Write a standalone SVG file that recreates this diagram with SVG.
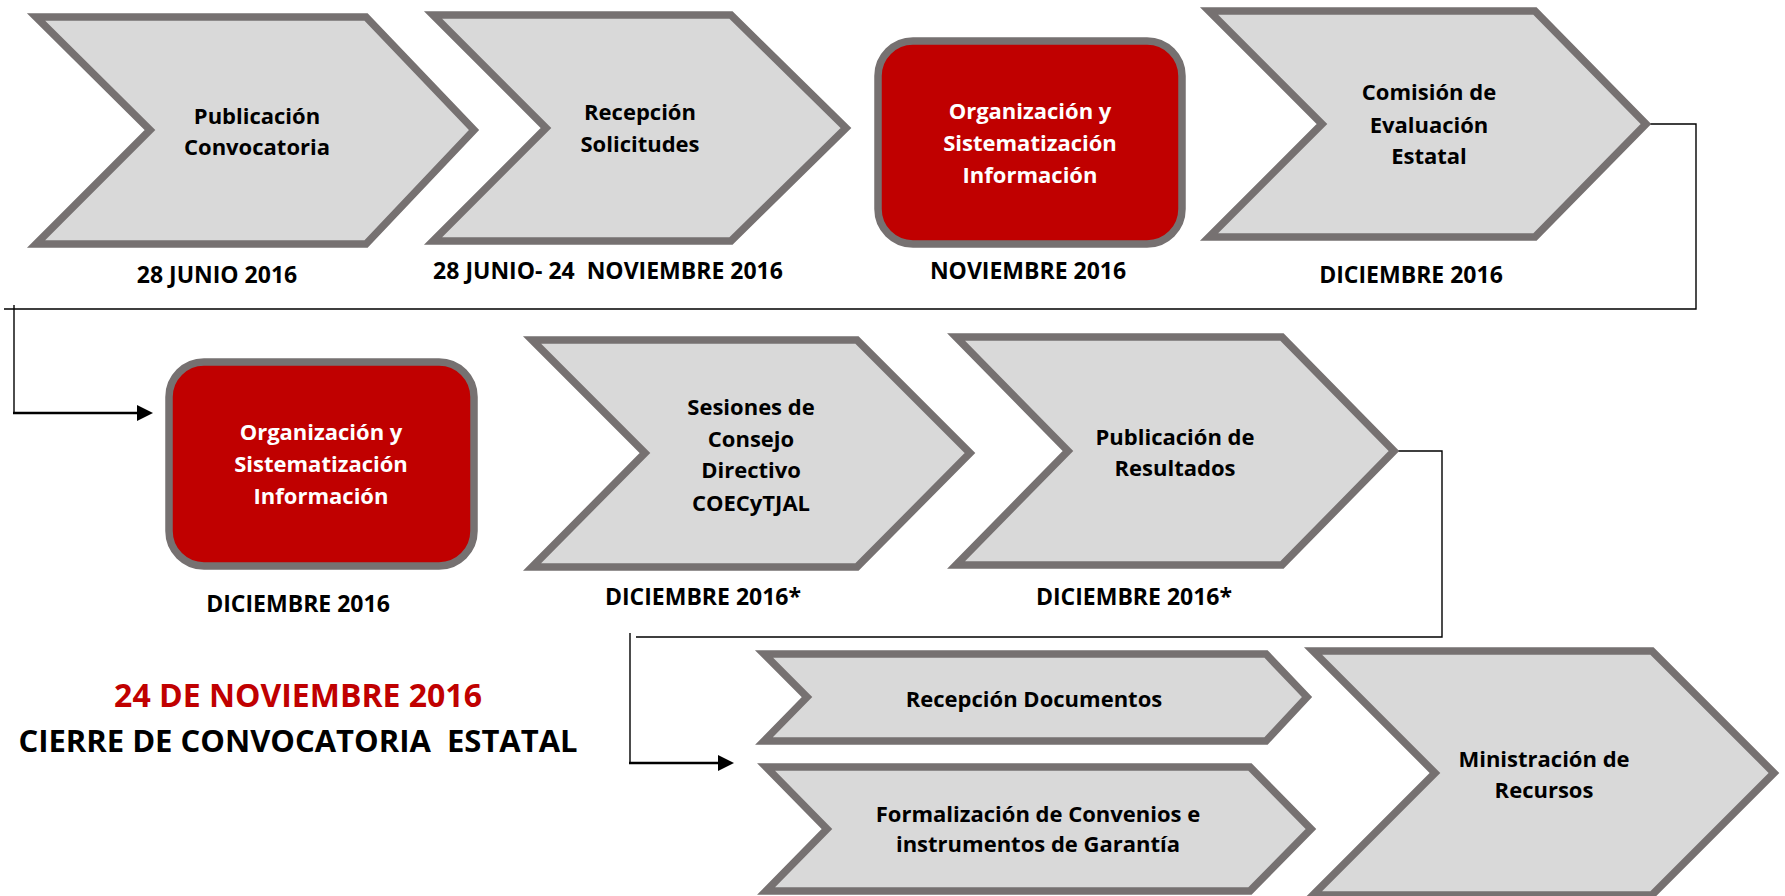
<svg xmlns="http://www.w3.org/2000/svg" width="1785" height="896" viewBox="0 0 1785 896">
<style>
.chev{fill:#d9d9d9;stroke:#767171;stroke-width:7.5;stroke-linejoin:miter}
.red{fill:#c00000;stroke:#767171;stroke-width:7.5}
text{font-family:"Open Sans","Noto Sans","DejaVu Sans",sans-serif;font-weight:700;text-anchor:middle}
.t{font-size:22px;fill:#000}
.w{font-size:22px;fill:#fff}
.d{font-size:23px;fill:#000}
.big{font-size:32px}
.big2{font-size:31px}
.conn{fill:none;stroke:#000;stroke-width:1.4}
.arr{fill:none;stroke:#000;stroke-width:2.5}
</style>
<defs>
<marker id="ah" markerUnits="userSpaceOnUse" markerWidth="16" markerHeight="16" refX="7" refY="8" orient="auto"><path d="M0,0 L16,8 L0,16 z" fill="#000"/></marker>
</defs>
<rect width="1785" height="896" fill="#fff"/>
<g id="connectors">
<path class="conn" d="M1650,124 H1696 V309 H4"/>
<path class="conn" d="M14,305 V413"/>
<path class="arr" d="M13,413 H144" marker-end="url(#ah)"/>
<path class="conn" d="M1394,451 H1442 V637 H636"/>
<path class="conn" d="M630,633 V763"/>
<path class="arr" d="M629,763 H725" marker-end="url(#ah)"/>
</g>
<g id="n1">
<path class="chev" d="M36,17 L366,17 L474,130 L366,244 L36,244 L150,130 Z"/>
<text class="t" x="257" y="124">Publicación</text>
<text class="t" x="257" y="155">Convocatoria</text>
<text class="d" x="217" y="283">28 JUNIO 2016</text>
</g>
<g id="n2">
<path class="chev" d="M433,15 L731,15 L846,128 L731,241 L433,241 L546,128 Z"/>
<text class="t" x="640" y="120">Recepción</text>
<text class="t" x="640" y="152">Solicitudes</text>
<text class="d" x="608" y="279" xml:space="preserve">28 JUNIO- 24  NOVIEMBRE 2016</text>
</g>
<g id="n3">
<rect class="red" x="878" y="41" width="304" height="203" rx="35"/>
<text class="w" x="1030" y="119">Organización y</text>
<text class="w" x="1030" y="151">Sistematización</text>
<text class="w" x="1030" y="183">Información</text>
<text class="d" x="1028" y="279">NOVIEMBRE 2016</text>
</g>
<g id="n4">
<path class="chev" d="M1209,11 L1535,11 L1646,124 L1535,237 L1209,237 L1322,124 Z"/>
<text class="t" x="1429" y="100">Comisión de</text>
<text class="t" x="1429" y="133">Evaluación</text>
<text class="t" x="1429" y="164">Estatal</text>
<text class="d" x="1411" y="283">DICIEMBRE 2016</text>
</g>
<g id="n5">
<rect class="red" x="169" y="362" width="305" height="204" rx="35"/>
<text class="w" x="321" y="440">Organización y</text>
<text class="w" x="321" y="472">Sistematización</text>
<text class="w" x="321" y="504">Información</text>
<text class="d" x="298" y="612">DICIEMBRE 2016</text>
</g>
<g id="n6">
<path class="chev" d="M532,340 L857,340 L970,453 L857,567 L532,567 L645,453 Z"/>
<text class="t" x="751" y="415">Sesiones de</text>
<text class="t" x="751" y="447">Consejo</text>
<text class="t" x="751" y="478">Directivo</text>
<text class="t" x="751" y="511">COECyTJAL</text>
<text class="d" x="703" y="605">DICIEMBRE 2016*</text>
</g>
<g id="n7">
<path class="chev" d="M956,337 L1282,337 L1394,451 L1282,565 L956,565 L1068,451 Z"/>
<text class="t" x="1175" y="445">Publicación de</text>
<text class="t" x="1175" y="476">Resultados</text>
<text class="d" x="1134" y="605">DICIEMBRE 2016*</text>
</g>
<g id="n8">
<path class="chev" d="M764,654 L1266,654 L1307,697 L1266,741 L764,741 L807,697 Z"/>
<text class="t" x="1034" y="707">Recepción Documentos</text>
</g>
<g id="n9">
<path class="chev" d="M766,767 L1250,767 L1311,829 L1250,891 L766,891 L827,829 Z"/>
<text class="t" x="1038" y="822">Formalización de Convenios e</text>
<text class="t" x="1038" y="852">instrumentos de Garantía</text>
</g>
<g id="n10">
<path class="chev" d="M1313,651 L1652,651 L1774,773 L1652,895 L1313,895 L1435,773 Z"/>
<text class="t" x="1544" y="767">Ministración de</text>
<text class="t" x="1544" y="798">Recursos</text>
</g>
<g id="note">
<text class="big" x="298" y="707" fill="#c00000">24 DE NOVIEMBRE 2016</text>
<text class="big2" x="298" y="752" fill="#000" xml:space="preserve">CIERRE DE CONVOCATORIA  ESTATAL</text>
</g>
</svg>
